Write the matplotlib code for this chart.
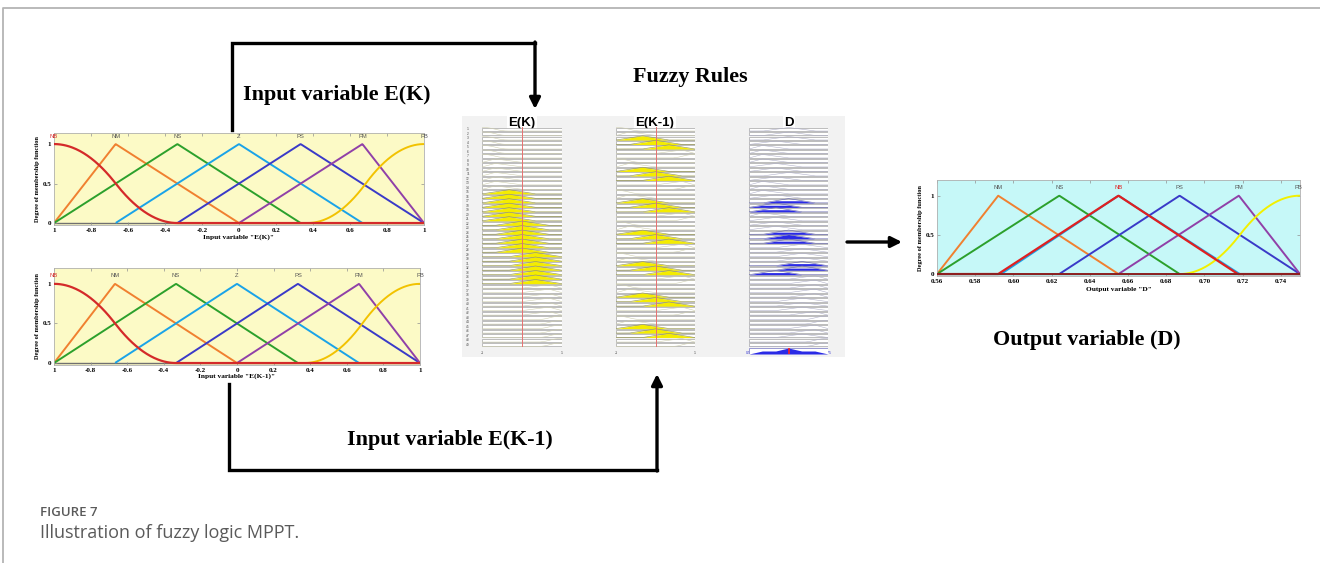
import numpy as np
import matplotlib
matplotlib.use("Agg")
import matplotlib.pyplot as plt
from matplotlib.patches import Rectangle

# ---------------- data ----------------
in_names = ["NB", "NM", "NS", "Z", "PS", "PM", "PB"]
in_kinds = ["z", "tri", "tri", "tri", "tri", "tri", "s"]
in_params = [(-1.0, -0.333), (-1.0, -0.667, 0.0), (-1.0, -0.333, 0.333),
             (-0.667, 0.0, 0.667), (-0.333, 0.333, 1.0), (0.0, 0.667, 1.0), (0.37, 1.0)]
in_label_pos = [-1.0, -0.667, -0.333, 0.0, 0.333, 0.667, 1.0]
in_xticks = [-1.0, -0.8, -0.6, -0.4, -0.2, 0.0, 0.2, 0.4, 0.6, 0.8, 1.0]
in_xticklabels = ["1", "-0.8", "-0.6", "-0.4", "-0.2", "0", "0.2", "0.4", "0.6", "0.8", "1"]
yticks = [0, 0.5, 1]
yticklabels = ["0", "0.5", "1"]

out_names = ["NM", "NS", "Z", "NB", "PS", "PM", "PB"]
out_kinds = ["tri", "tri", "tri", "tri", "tri", "tri", "s"]
out_params = [(0.56, 0.592, 0.655), (0.56, 0.624, 0.687), (0.5935, 0.655, 0.7185),
              (0.592, 0.655, 0.7175), (0.624, 0.687, 0.75), (0.655, 0.718, 0.75), (0.687, 0.75)]
out_label_names = ["NM", "NS", "NB", "PS", "PM", "PB"]
out_label_pos = [0.592, 0.624, 0.655, 0.687, 0.718, 0.749]
out_xticks = [0.56, 0.58, 0.60, 0.62, 0.64, 0.66, 0.68, 0.70, 0.72, 0.74]
out_xticklabels = ["0.56", "0.58", "0.60", "0.62", "0.64", "0.66", "0.68", "0.70", "0.72", "0.74"]

# rule base: rows = E(K) term, columns = E(K-1) term, entry = D term
rule_table = [
    ["Z", "Z", "Z", "NS", "NM", "NM", "NM"],
    ["NM", "NS", "NS", "Z", "NS", "NM", "NM"],
    ["NM", "NS", "Z", "NS", "NS", "NM", "NS"],
    ["NS", "NS", "Z", "Z", "Z", "PS", "PS"],
    ["PS", "PS", "PS", "PS", "NS", "PM", "PM"],
    ["PM", "PM", "PM", "PS", "PS", "PS", "PM"],
    ["PB", "PB", "PM", "PM", "PS", "PB", "PB"],
]
ek_input = 0.0
ekm1_input = 0.0

# ---------------- styles ----------------
in_colors = ["#d42a2a", "#f08030", "#2ca02c", "#1aa3e8", "#3a3ac8", "#9040a8", "#f2c200"]
out_colors = ["#f08030", "#2ca02c", "#1aa3e8", "#e02020", "#3a3ac8", "#9040a8", "#f2f000"]
W, H = 1320, 563
fig = plt.figure(figsize=(W / 100, H / 100), dpi=100)
SERIF = "Liberation Serif"
SANS = "Liberation Sans"


def fax(x0, y0, x1, y1, **kw):
    return fig.add_axes([x0 / W, 1 - y1 / H, (x1 - x0) / W, (y1 - y0) / H], **kw)


def mf(kind, p, x):
    x = np.asarray(x, float)
    if kind == "tri":
        a, b, c = p
        return np.clip(np.minimum((x - a) / (b - a), (c - x) / (c - b)), 0, 1)
    a, b = p
    m = (a + b) / 2
    s = np.where(x <= a, 0.0,
                 np.where(x <= m, 2 * ((x - a) / (b - a)) ** 2,
                          np.where(x <= b, 1 - 2 * ((x - b) / (b - a)) ** 2, 1.0)))
    return s if kind == "s" else 1 - s


def support(kind, p, lo, hi):
    if kind == "tri":
        return p[0], p[2]
    if kind == "s":
        return p[0], hi
    return lo, hi


# overlay for frame, connectors and texts
ov = fax(0, 0, W, H, zorder=-5)
ov.set_xlim(0, W)
ov.set_ylim(H, 0)
ov.axis("off")
ov.plot([3, 3, W], [H, 8, 8], color="#b4b4b4", lw=1.3, solid_capstyle="butt")
ov.add_patch(Rectangle((462, 116), 383, 241, fc="#f2f2f2", ec="none"))


def mf_axes(box, kinds, params, colors, names_pos, names, name_colors, xlim, xticks, xticklabels,
            xlabel, bg, ytop, red_idx, xlabelpad):
    ax = fax(*box)
    ax.set_facecolor(bg)
    ax.set_xlim(*xlim)
    ax.set_ylim(-0.025, ytop)
    xs = np.linspace(xlim[0], xlim[1], 600)
    ax.plot(xlim, [0, 0], color="#707070", lw=1.0, zorder=1)
    for i, (k, p, c) in enumerate(zip(kinds, params, colors)):
        lo, hi = support(k, p, *xlim)
        sel = (xs >= lo) & (xs <= hi)
        xx = xs[sel]
        if i == red_idx:
            xx = xs
        ax.plot(xx, mf(k, p, xx), color=c, lw=1.4 if i != red_idx else 1.6,
                zorder=3 if i == red_idx else 2, solid_capstyle="butt")
    for x, n, c in zip(names_pos, names, name_colors):
        ax.text(x, 1.1, n, ha="center", va="center", fontsize=4.2, color=c, family=SANS)
    ax.set_xticks(xticks)
    ax.set_xticklabels(xticklabels, family=SERIF, fontweight="bold", fontsize=5)
    ax.set_yticks(yticks)
    ax.set_yticklabels(yticklabels, family=SERIF, fontweight="bold", fontsize=5)
    ax.tick_params(direction="in", top=True, right=True, length=2, width=0.5, color="#909090", pad=2)
    ax.set_xlabel(xlabel, family=SERIF, fontweight="bold", fontsize=5.3, labelpad=xlabelpad)
    ax.set_ylabel("Degree of membership function", family=SERIF, fontweight="bold", fontsize=4.6,
                  labelpad=1.5)
    for s in ax.spines.values():
        s.set_color("#b0b0b0")
        s.set_linewidth(0.6)
    return ax


in_name_colors = ["#d42a2a"] + ["#555555"] * 6
mf_axes((54, 133, 424, 225), in_kinds, in_params, in_colors, in_label_pos, in_names, in_name_colors,
        (-1, 1), in_xticks, in_xticklabels, 'Input variable "E(K)"', "#fcfac6", 1.14, 0, 1.0)
mf_axes((54, 268, 420, 365), in_kinds, in_params, in_colors, in_label_pos, in_names, in_name_colors,
        (-1, 1), in_xticks, in_xticklabels, 'Input variable "E(K-1)"', "#fcfac6", 1.2, 0, 0.5)
out_name_colors = ["#555555", "#555555", "#e02020", "#555555", "#555555", "#555555"]
axo = mf_axes((937, 180, 1300, 276), out_kinds, out_params, out_colors, out_label_pos, out_label_names,
              out_name_colors, (0.56, 0.75), out_xticks, out_xticklabels, 'Output variable "D"',
              "#c6f8f8", 1.2, 3, 2.5)
axo.plot([0.56, 0.75], [0, 0], color="#8b2020", lw=1.4, zorder=4)

# ---------------- rule viewer ----------------
rules = []
for i, row in enumerate(rule_table):
    for j, d in enumerate(row):
        rules.append((i, j, out_names.index(d)))
n_rules = len(rules)
r_top, r_bot = 127, 347
pitch = (r_bot - r_top) / n_rules
ek_mu = [mf(in_kinds[i], in_params[i], ek_input) for i in range(7)]
ekm1_mu = [mf(in_kinds[j], in_params[j], ekm1_input) for j in range(7)]


def rule_column(box, xlim, terms, kinds, params, fired_w, fill_col, edge_col, line_col, clip):
    ax = fax(*box)
    ax.set_xlim(*xlim)
    ax.set_ylim(n_rules, 0)
    ax.axis("off")
    xs = np.linspace(xlim[0], xlim[1], 300)
    for r, t in enumerate(terms):
        ax.add_patch(Rectangle((xlim[0], r + 0.12), xlim[1] - xlim[0], 0.76, fc="white",
                               ec="#a6a6a6", lw=0.5, zorder=1))
        mu = mf(kinds[t], params[t], xs)
        base = r + 0.9
        w = fired_w[r]
        if w > 0:
            top = np.minimum(mu, w) if clip else mu
            ax.fill_between(xs, base, base - 0.95 * top, where=top > 0, color=fill_col, lw=0, zorder=2)
            ax.plot(xs, base - 0.95 * mu, color=edge_col, lw=0.45, zorder=3)
        else:
            ax.plot(xs, base - 0.8 * mu, color=line_col, lw=0.4, zorder=3)
    return ax


col1_terms = [r[0] for r in rules]
col2_terms = [r[1] for r in rules]
col3_terms = [r[2] for r in rules]
w1 = [float(ek_mu[t]) for t in col1_terms]
w2 = [float(ekm1_mu[t]) for t in col2_terms]
w3 = [min(a, b) for a, b in zip(w1, w2)]

a1 = rule_column((482, r_top, 562, r_bot), (-1, 1), col1_terms, in_kinds, in_params, w1,
                 "#f4ec00", "#9a9a50", "#cfcfb0", False)
a2 = rule_column((616, r_top, 695, r_bot), (-1, 1), col2_terms, in_kinds, in_params, w2,
                 "#f4ec00", "#9a9a50", "#cfcfb0", False)
a3 = rule_column((749, r_top, 828, r_bot), (0.56, 0.75), col3_terms, out_kinds, out_params, w3,
                 "#2a2ae6", "#6a6ab0", "#b0b0c8", True)
for a in (a1, a2):
    a.plot([ek_input, ek_input], [0, n_rules], color="#e87070", lw=0.7, zorder=4)

# aggregate output
agg = fax(749, 348, 828, 354)
agg.set_xlim(0.56, 0.75)
agg.set_ylim(0, 1)
agg.axis("off")
xs = np.linspace(0.56, 0.75, 400)
agg_mu = np.zeros_like(xs)
for t, w in zip(col3_terms, w3):
    if w > 0:
        agg_mu = np.maximum(agg_mu, np.minimum(mf(out_kinds[t], out_params[t], xs), w))
agg.add_patch(Rectangle((0.56, 0), 0.19, 1, fc="white", ec="#8888cc", lw=0.6))
agg.fill_between(xs, 0, agg_mu, color="#2a2ae6", lw=0)
cen = float(np.sum(xs * agg_mu) / np.sum(agg_mu))
agg.plot([cen, cen], [0, 1], color="#ff2020", lw=1.2)

# titles, row numbers and bottom ticks of rule viewer
for cx, t in [(522, "E(K)"), (655, "E(K-1)"), (789, "D")]:
    ov.text(cx, 123, t, ha="center", va="center", fontsize=9.5, fontweight="bold", family=SANS,
            bbox=dict(fc="white", ec="none", pad=1.2))
for r in range(n_rules):
    ov.text(468, r_top + (r + 0.5) * pitch, str(r + 1), ha="center", va="center", fontsize=2.3,
            color="#444444", family=SANS)
for x0, x1, l0, l1, c in [(482, 562, "-1", "1", "#444444"), (616, 695, "-1", "1", "#444444"),
                          (749, 828, "0.56", "0.75", "#3030d0")]:
    ov.text(x0, 353, l0, ha="center", va="center", fontsize=2.5, color=c, family=SANS)
    ov.text(x1, 353, l1, ha="center", va="center", fontsize=2.5, color=c, family=SANS)

# ---------------- connectors ----------------
LW = 2.4
ov.plot([232, 232, 535], [130, 43, 43], color="black", lw=LW, solid_joinstyle="miter")
ov.annotate("", xy=(535, 109), xytext=(535, 42), arrowprops=dict(arrowstyle="-|>", lw=LW,
            color="black", mutation_scale=16, shrinkA=0, shrinkB=0))
ov.plot([229, 229, 657], [384, 470, 470], color="black", lw=LW, solid_joinstyle="miter")
ov.annotate("", xy=(657, 374), xytext=(657, 471), arrowprops=dict(arrowstyle="-|>", lw=LW,
            color="black", mutation_scale=16, shrinkA=0, shrinkB=0))
ov.annotate("", xy=(902, 242), xytext=(847, 242), arrowprops=dict(arrowstyle="-|>", lw=LW,
            color="black", mutation_scale=16, shrinkA=0, shrinkB=0))

ov.text(243, 95, "Input variable E(K)", ha="left", va="center", fontsize=15.8, fontweight="bold",
        family=SERIF)
ov.text(690, 77, "Fuzzy Rules", ha="center", va="center", fontsize=15.8, fontweight="bold",
        family=SERIF)
ov.text(450, 440, "Input variable E(K-1)", ha="center", va="center", fontsize=15.8, fontweight="bold",
        family=SERIF)
ov.text(1087, 340, "Output variable (D)", ha="center", va="center", fontsize=15.8, fontweight="bold",
        family=SERIF)

ov.text(40, 513, "FIGURE 7", ha="left", va="center", fontsize=9.5, fontweight="semibold",
        family="Open Sans", color="#5a5a5a")
ov.text(40, 533, "Illustration of fuzzy logic MPPT.", ha="left", va="center", fontsize=13,
        family="Open Sans", color="#5a5a5a")

fig.savefig("out.png", dpi=100)
